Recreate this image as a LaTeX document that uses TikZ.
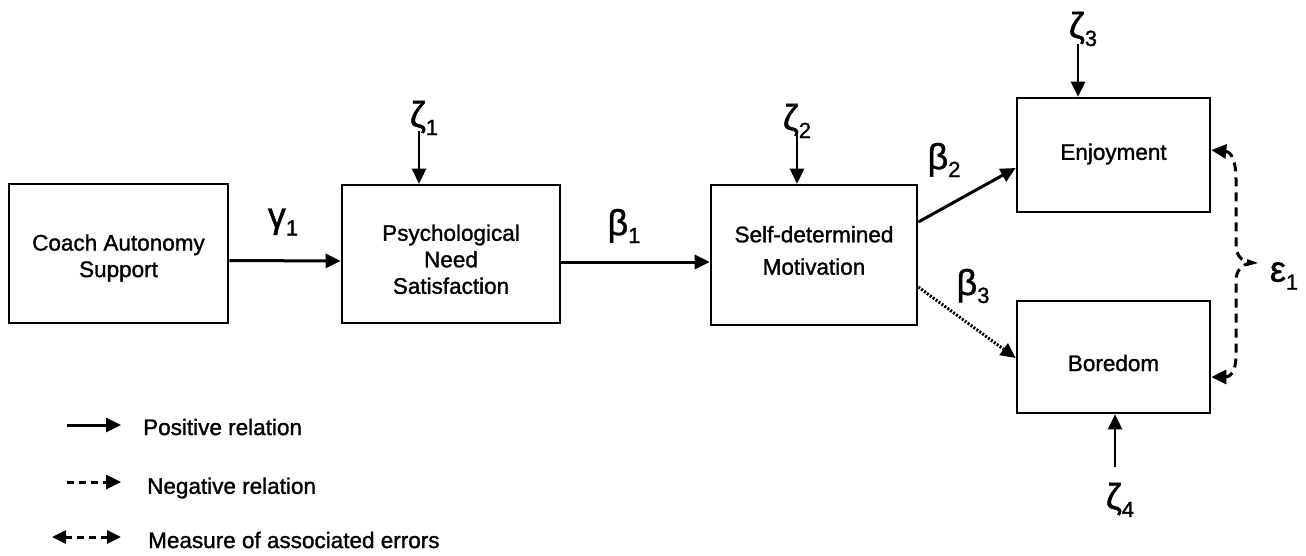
\documentclass[tikz,border=0pt]{standalone}
\usepackage{fontspec}
\setmainfont{Liberation Sans}
\newfontfamily\scanfont{Liberation Sans}[FakeBold=1.3]
\usetikzlibrary{arrows.meta,calc}
\newcommand\gk[2]{{\fontsize{36}{36}\selectfont #1}{\fontsize{22}{22}\selectfont\raisebox{-8pt}{#2}}}
\newcommand\boxtext[3]{\raisebox{#1}[\height][\depth]{\def\arraystretch{#2}\begin{tabular}{@{}c@{}}#3\end{tabular}}}
\begin{document}
\begin{tikzpicture}[x=1pt,y=-1pt,
  box/.style={draw, line width=2.6pt, align=center, font=\scanfont\fontsize{22.5}{26.5}\selectfont},
  lbl/.style={inner sep=0pt, font=\scanfont},
  legtxt/.style={anchor=west, inner sep=0pt, font=\scanfont\fontsize{22.5}{26.5}\selectfont},
  posarr/.style={line width=3pt, -{Triangle[length=15pt,width=14pt]}},
  zarr/.style={line width=2.6pt, -{Triangle[length=15pt,width=14pt]}},
  dotarr/.style={line width=3pt, dash pattern=on 2pt off 1.6pt, -{Triangle[length=15pt,width=14pt]}},
  negarr/.style={line width=3pt, dash pattern=on 7pt off 5pt, -{Triangle[length=15pt,width=14pt]}},
  errarr/.style={line width=3pt, dash pattern=on 9pt off 6pt, {Triangle[length=15pt,width=14pt]}-{Triangle[length=15pt,width=14pt]}}
]
\useasboundingbox (0,0) rectangle (1306,555);

% boxes
\node[box, minimum width=219pt, minimum height=139pt] (coach) at (118.5,253.5) {\boxtext{-5pt}{1}{Coach Autonomy\\Support}};
\node[box, minimum width=218pt, minimum height=138pt] (psych) at (451,254) {\boxtext{-8pt}{1}{Psychological\\Need\\Satisfaction}};
\node[box, minimum width=206pt, minimum height=140pt] (sdm) at (814,255) {\boxtext{3pt}{1.22}{Self-determined\\Motivation}};
\node[box, minimum width=193pt, minimum height=114pt] (enj) at (1113.5,155) {\raisebox{1pt}[\height][\depth]{Enjoyment}};
\node[box, minimum width=193pt, minimum height=112pt] (bor) at (1113.5,357) {\raisebox{-6pt}[\height][\depth]{Boredom}};

% path arrows
\draw[posarr] ([yshift=-7pt]coach.east) -- ([yshift=-7pt]psych.west);
\draw[posarr] ([yshift=-8pt]psych.east) -- ([yshift=-7pt]sdm.west);
\draw[posarr] ([yshift=33pt]sdm.east) -- ([yshift=-13pt]enj.west);
\draw[dotarr] ([yshift=-32pt]sdm.east) -- ([yshift=-1pt]bor.west);

% coefficient labels
\node[lbl] (g1) at (283,222) {\gk{γ}{1}};
\node[lbl] (b1) at (624,226) {\gk{β}{1}};
\node[lbl] (b2) at (944,160) {\gk{β}{2}};
\node[lbl] (b3) at (973,286) {\gk{β}{3}};

% disturbances
\node[lbl] (z1) at (424,118) {\gk{ζ}{1}};
\node[lbl] (z2) at (797,121) {\gk{ζ}{2}};
\node[lbl] (z3) at (1083,29) {\gk{ζ}{3}};
\node[lbl] (z4) at (1120,500) {\gk{ζ}{4}};
\coordinate (z1s) at (419,131);
\coordinate (z2s) at (797,134);
\coordinate (z3s) at (1078,44);
\coordinate (z4s) at (1115,467);
\draw[zarr] (z1s) -- (z1s |- psych.north);
\draw[zarr] (z2s) -- (z2s |- sdm.north);
\draw[zarr] (z3s) -- (z3s |- enj.north);
\draw[zarr] (z4s) -- (z4s |- bor.south);

% correlated errors
\node[lbl] (e1) at (1284,276) {\gk{ε}{1}};
\coordinate (tip) at (1250,263);
\draw[errarr] ([yshift=5pt]enj.east) .. controls (1232,152) and (1236,162) .. (1236,180)
  -- (1236,245) .. controls (1236,256) and (1242,261) .. (tip)
  .. controls (1242,265) and (1236,270) .. (1236,281)
  -- (1236,355) .. controls (1236,372) and (1230,377) .. ([yshift=-20pt]bor.east);
\fill (1247,259) -- (1258,263) -- (1247,266) -- cycle;

% legend
\node[legtxt] (t1) at (143,427) {Positive relation};
\node[legtxt] (t2) at (147,488) {Negative relation};
\node[legtxt] (t3) at (148,540) {Measure of associated errors};
\coordinate (l1a) at (67,425);
\coordinate (l1b) at (121,425);
\coordinate (l2a) at (67,482);
\coordinate (l2b) at (121,482);
\coordinate (l3a) at (52,537);
\coordinate (l3b) at (121,537);
\draw[posarr] (l1a) -- (l1b);
\draw[negarr] (l2a) -- (l2b);
\draw[line width=3pt, dash pattern=on 7pt off 5pt, {Triangle[length=14pt,width=13pt]}-{Triangle[length=14pt,width=13pt]}] (l3a) -- (l3b);
\end{tikzpicture}
\end{document}
